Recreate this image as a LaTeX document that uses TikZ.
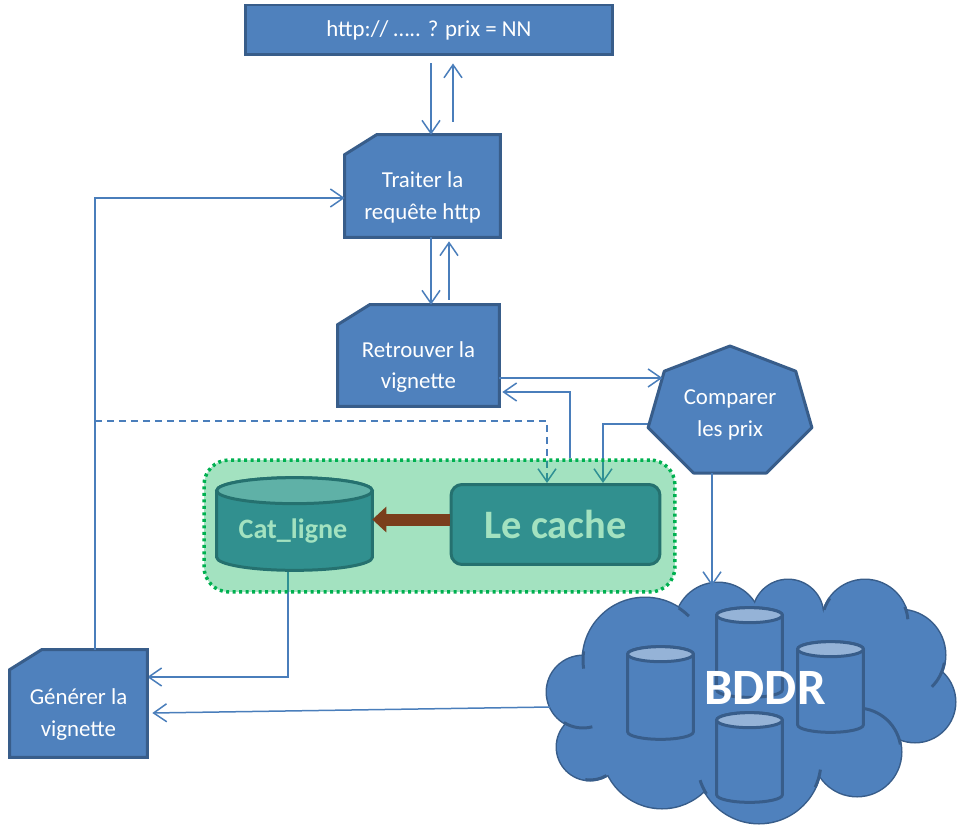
\documentclass[tikz,border=0pt]{standalone}
\usepackage{fontspec}
\setmainfont{Carlito}
\usetikzlibrary{arrows.meta,calc}
\pgfdeclarelayer{back}
\pgfdeclarelayer{grp}
\pgfsetlayers{back,grp,main}
\definecolor{boxfill}{HTML}{4F81BD}
\definecolor{boxline}{HTML}{385D8A}
\definecolor{conncol}{HTML}{4A7EBB}
\definecolor{grpcol}{HTML}{00B050}
\definecolor{tealfill}{HTML}{31908F}
\definecolor{tealline}{HTML}{25716F}
\definecolor{tealtop}{HTML}{5FB1A7}
\definecolor{tealtext}{HTML}{A3E2C0}
\definecolor{brownarr}{HTML}{7A3E1C}
\definecolor{dbtop}{HTML}{95B3D7}
\newcommand\snipshape[1]{%
  \draw[boxshape] (#1.south west) -- (#1.south east) -- (#1.north east)
    -- ([xshift=0.64cm]#1.north west) -- ([yshift=-0.4cm]#1.north west) -- cycle;}
\newcommand\cylshape[5]{%
  \path[fill=#3,draw=#5,line width=0.06cm] let \p1=($(#1.east)-(#1.center)$) in
    ([yshift=-#2]#1.north west) -- ([yshift=#2]#1.south west)
    arc[start angle=180,end angle=360,x radius=\x1,y radius=#2]
    -- ([yshift=-#2]#1.north east)
    arc[start angle=0,end angle=180,x radius=\x1,y radius=#2] -- cycle;
  \path[fill=#4,draw=#5,line width=0.06cm] let \p1=($(#1.east)-(#1.center)$) in
    ([yshift=-#2]#1.north) ellipse[x radius=\x1,y radius=#2];}
\begin{document}
\begin{tikzpicture}[x=0.02cm,y=0.02cm,
  boxnode/.style={rectangle,inner sep=0pt},
  boxshape/.style={fill=boxfill,draw=boxline,line width=0.06cm},
  boxtext/.style={text=white,align=center,font=\fontsize{13}{18}\selectfont},
  conn/.style={draw=conncol,line width=0.03cm,-{Straight Barb[length=0.26cm,width=0.36cm]}},
  dashconn/.style={conn,dash pattern=on 0.14cm off 0.1cm},
  cloudline/.style={fill=boxfill,draw=boxline,line width=0.06cm},
  puffline/.style={draw=boxline,line width=0.06cm}]
\useasboundingbox (0,0) rectangle (962,-834);

% top box
\node[boxnode,boxshape,boxtext,minimum width=7.36cm,minimum height=1cm] (top) at (429,-30) {http:// ….. ? prix = NN};

% snipped boxes
\node[boxnode,minimum width=3.1cm,minimum height=2.04cm] (tr) at (422.5,-186) {};
\snipshape{tr}
\node[boxtext] (trt) at ([yshift=-0.23cm]tr.center) {Traiter la\\requête http};

\node[boxnode,minimum width=3.22cm,minimum height=2.02cm] (rt) at (418.5,-355.5) {};
\snipshape{rt}
\node[boxtext] (rtt) at ([yshift=-0.23cm]rt.center) {Retrouver la\\vignette};

\node[boxnode,minimum width=2.74cm,minimum height=2.14cm] (gv) at (78.5,-703.5) {};
\snipshape{gv}
\node[boxtext] (gvt) at ([yshift=-0.22cm]gv.center) {Générer la\\vignette};

% heptagon
\coordinate (h1) at (730,-346);
\coordinate (h2) at (795.7,-371.2);
\coordinate (h3) at (811.9,-427.7);
\coordinate (h4) at (766.4,-473);
\coordinate (h5) at (693.6,-473);
\coordinate (h6) at (648.1,-427.7);
\coordinate (h7) at (664.3,-371.2);
\draw[boxshape,line join=round] (h1) -- (h2) -- (h3) -- (h4) -- (h5) -- (h6) -- (h7) -- cycle;
\node[boxtext] (cmp) at (730,-415) {Comparer\\les prix};
\coordinate (cmpA) at ($(h7)!0.12!(h6)$);
\coordinate (cmpL) at ($(h7)!0.934!(h6)$);
\coordinate (cmpB) at ($(h4)!0.747!(h5)$);

% group
\begin{pgfonlayer}{grp}
\node[rectangle,draw=grpcol,fill=grpcol,fill opacity=0.36,draw opacity=1,rounded corners=0.5cm,
  line width=0.07cm,dash pattern=on 0.06cm off 0.07cm,minimum width=9.42cm,minimum height=2.64cm] (grp) at (439.5,-526) {};
\end{pgfonlayer}
\node[boxnode,minimum width=3.1cm,minimum height=1.84cm] (cat) at (294.5,-524) {};
\cylshape{cat}{0.26cm}{tealfill}{tealtop}{tealline}
\node[text=tealtext,font=\bfseries\fontsize{16}{19}\selectfont] (catt) at (293,-531) {Cat\_ligne};
\node[rectangle,draw=tealline,fill=tealfill,rounded corners=0.22cm,line width=0.06cm,
  minimum width=4.18cm,minimum height=1.6cm,text=tealtext,font=\bfseries\fontsize{23}{28}\selectfont] (cache) at (555.5,-524.5) {Le cache};

% cloud
\def\puffs{583/692/36,645/660/62,718/626/43,788/615/35,865/623/43,900/655/45,915/702/40,857/752/44,759/761/62,662/748/60,590/747/33}
\foreach \cx/\cy/\r in \puffs
  \draw[cloudline] (\cx,-\cy) circle[radius=\r];
\foreach \cx/\cy/\r in \puffs
  \fill[boxfill] (\cx,-\cy) circle[radius=\r];
\fill[boxfill] (750,-700) ellipse[x radius=150,y radius=70];
\fill[boxfill] (770,-660) ellipse[x radius=120,y radius=50];
% inner puff strokes
\draw[puffline] (645,-660) ++(172:62) arc[start angle=172,end angle=188,radius=62];
\draw[puffline] (645,-660) ++(57:62) arc[start angle=57,end angle=45,radius=62];
\draw[puffline] (583,-692) ++(238:36) arc[start angle=238,end angle=285,radius=36];
\draw[puffline] (590,-747) ++(262:33) arc[start angle=262,end angle=300,radius=33];
\draw[puffline] (759,-761) ++(198:62) arc[start angle=198,end angle=212,radius=62];
\draw[puffline] (865,-623) ++(162:43) arc[start angle=162,end angle=145,radius=43];
\draw[puffline] (865,-623) ++(22:43) arc[start angle=22,end angle=5,radius=43];
\draw[puffline] (900,-655) ++(-10:45) arc[start angle=-10,end angle=-45,radius=45];
\draw[puffline] (857,-752) ++(95:44) arc[start angle=95,end angle=10,radius=44];
\draw[puffline] (759,-761) ++(-8:62) arc[start angle=-8,end angle=-25,radius=62];
\coordinate (cloudT) at (712,-586);
\coordinate (cloudW) at (550,-707);

\node[boxnode,minimum width=1.3cm,minimum height=1.84cm] (db1) at (660.5,-693) {};
\node[boxnode,minimum width=1.3cm,minimum height=1.78cm] (db2) at (749.5,-652.5) {};
\node[boxnode,minimum width=1.3cm,minimum height=1.8cm] (db3) at (830.5,-687) {};
\node[boxnode,minimum width=1.3cm,minimum height=1.78cm] (db4) at (749.5,-757.5) {};
\cylshape{db1}{0.15cm}{boxfill}{dbtop}{boxline}
\cylshape{db2}{0.15cm}{boxfill}{dbtop}{boxline}
\cylshape{db3}{0.15cm}{boxfill}{dbtop}{boxline}
\cylshape{db4}{0.15cm}{boxfill}{dbtop}{boxline}
\node[text=white,font=\bfseries\fontsize{29}{34}\selectfont] (bddr) at (765,-688) {BDDR};

% connectors
\draw[conn,shorten <=0.14cm] ([xshift=0.04cm]top.south) -- ([xshift=0.04cm]top.south |- tr.north);
\draw[conn,shorten <=0.26cm,shorten >=0.14cm] ([xshift=0.48cm]top.south |- tr.north) -- ([xshift=0.48cm]top.south);
\draw[conn] ([xshift=0.17cm]tr.south) -- ([xshift=0.17cm]tr.south |- rt.north);
\draw[conn,shorten <=0.1cm,shorten >=0.08cm] ([xshift=0.53cm]tr.south |- rt.north) -- ([xshift=0.53cm]tr.south);
\draw[conn] (rt.east |- cmpA) -- (cmpA);
\coordinate (dstart) at (95,-421);
\begin{pgfonlayer}{back}
\draw[conn,shorten >=0.06cm] ([xshift=2.61cm]grp.north) |- ([yshift=-0.73cm]rt.east);
\draw[dashconn] (dstart) -| ([xshift=-0.17cm]cache.north);
\draw[conn] (cmpL) -| ([xshift=0.95cm]cache.north);
\draw[conn] ([xshift=-0.13cm]cat.south) |- ([yshift=0.53cm]gv.east);
\end{pgfonlayer}
\draw[conn] (cmpB) -- (cmpB |- cloudT);
\draw[conn] (cloudW) -- ([xshift=0.1cm,yshift=-0.19cm]gv.east);
\draw[conn] ([xshift=0.33cm]gv.north) |- ([yshift=-0.24cm]tr.west);
\draw[draw=brownarr,line width=0.24cm,-{Triangle[length=0.28cm,width=0.5cm]}] ([yshift=0.1cm]cache.west) -- ([yshift=0.1cm]cache.west -| cat.east);
\end{tikzpicture}
\end{document}
